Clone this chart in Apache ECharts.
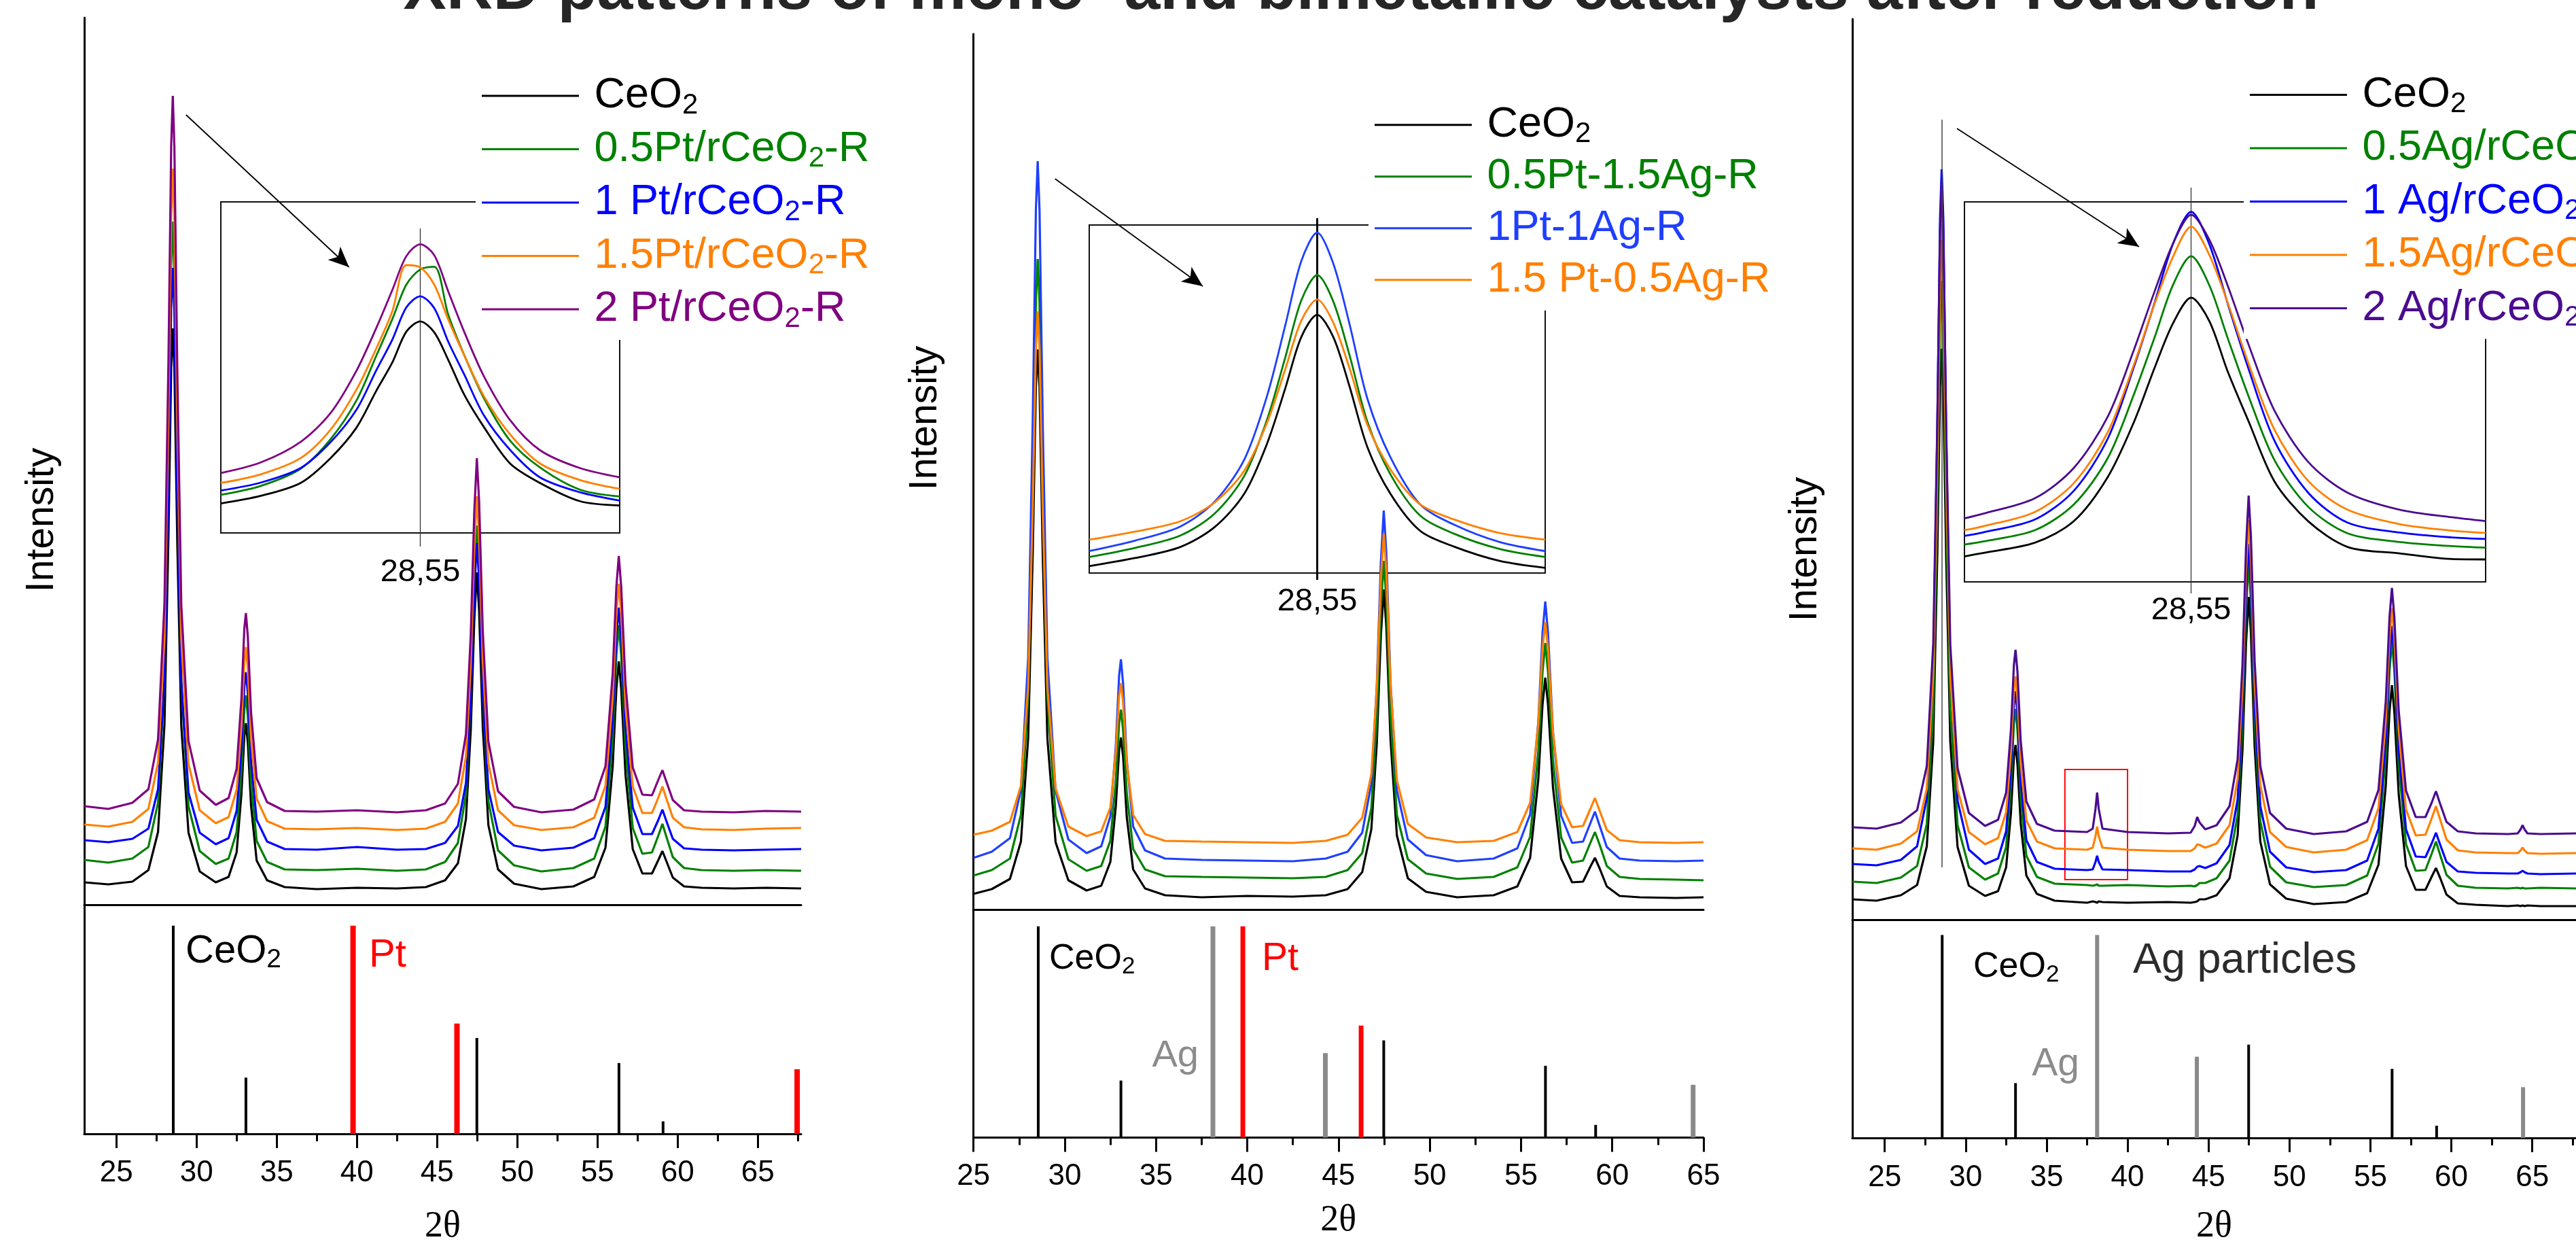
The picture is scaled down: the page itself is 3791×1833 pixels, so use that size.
<!DOCTYPE html>
<html>
<head>
<meta charset="utf-8">
<title>XRD patterns</title>
<script src="https://cdn.jsdelivr.net/npm/echarts@6.0.0/dist/echarts.min.js"></script>
<style>
html,body{margin:0;padding:0;background:#ffffff;overflow:hidden;}
#chart{width:3791px;height:1833px;}
</style>
</head>
<body>
<div id="chart"></div>
<script>
// ---------------- texts ----------------
const TITLE = 'XRD patterns of mono- and bimetallic catalysts after reduction';
const X_NAME = '2θ';
const Y_NAME = 'Intensity';
const INSET_TICK = 28.55;

// ---------------- panel 1 : Pt/rCeO2 ----------------
const P1_NAMES = ['CeO2', '0.5Pt/rCeO2-R', '1 Pt/rCeO2-R', '1.5Pt/rCeO2-R', '2 Pt/rCeO2-R'];
const P1_X = [23,24.5,26,27,27.6,28.0,28.25,28.42,28.52,28.62,28.8,29.05,29.5,30.2,31.2,32.0,32.5,32.8,32.98,33.08,33.2,33.4,33.75,34.4,35.5,37.5,40,42.5,44.3,45.5,46.3,46.8,47.1,47.32,47.48,47.62,47.85,48.2,48.8,49.8,51.5,53.5,54.8,55.5,55.95,56.18,56.33,56.48,56.75,57.2,57.8,58.4,58.8,59.05,59.3,59.7,60.4,61.5,63.5,65.5,67.7];
const P1_CEO2 = [33,30,34,51,107,264,543,790,848,790,534,263,106,49,33,41,77,163,248,267,238,146,65,36,26,23,25,24,26,36,61,126,257,419,489,433,261,117,52,31,23,27,41,84,204,318,358,318,191,82,46,46,66,79,64,40,27,25,24,25,24];
const P1_PT05 = [66,62,68,85,150,331,654,939,1005,936,641,327,145,79,60,68,107,197,287,308,277,179,94,63,52,51,53,50,52,63,91,162,304,482,558,497,309,152,80,58,49,54,68,115,245,368,411,368,231,113,75,77,102,119,100,70,54,51,50,51,50];
const P1_PT1 = [95,92,97,112,170,332,622,877,937,875,610,328,165,106,89,98,138,229,321,342,311,211,125,93,82,81,85,81,82,91,116,179,306,464,532,478,311,170,107,87,80,84,98,144,273,394,437,394,259,143,104,104,125,140,123,97,83,81,80,81,82];
const P1_PT15 = [118,115,122,141,209,394,724,1015,1083,1014,713,392,207,139,120,129,169,263,357,379,347,245,156,123,112,111,113,110,112,122,149,218,356,527,601,542,360,208,139,117,110,114,128,175,305,429,472,429,291,174,135,135,158,174,156,128,114,111,110,112,113];
const P1_PT2 = [145,141,150,170,243,443,801,1116,1190,1115,789,441,241,168,147,157,200,303,406,429,394,283,186,151,138,137,139,136,139,149,178,251,397,579,657,594,402,240,167,144,136,140,155,204,340,468,513,468,325,202,162,161,184,198,181,154,139,137,136,138,137];
const P1_INSET_X = [27.55,27.75,27.95,28.10,28.23,28.33,28.41,28.48,28.55,28.62,28.69,28.77,28.87,29.00,29.15,29.35,29.55];
const P1_INSET_CEO2 = [8.9,11.2,15.1,22.6,31.8,43.0,51.5,60.8,63.9,60.6,52.3,41.8,31.9,21.0,15.1,9.6,8.3];
const P1_INSET_PT05 = [11.5,14.2,19.4,28.3,40.0,53.6,64.6,75.0,79.6,80.4,66.0,53.8,40.6,27.9,19.8,13.1,11.0];
const P1_INSET_PT1 = [12.8,15.2,19.6,27.4,37.2,49.2,58.4,68.1,71.5,67.9,57.8,47.9,35.4,25.1,16.8,12.3,9.8];
const P1_INSET_PT15 = [15.1,17.7,22.6,31.2,43.3,55.8,67.0,80.9,80.2,75.0,64.5,53.7,41.2,29.8,21.0,16.0,13.3];
const P1_INSET_PT2 = [18.1,21.3,27.5,36.2,49.0,62.0,73.4,83.6,87.2,83.9,73.0,60.8,47.2,34.1,25.0,19.6,16.8];

// ---------------- panel 2 : Pt-Ag ----------------
const P2_NAMES = ['CeO2', '0.5Pt-1.5Ag-R', '1Pt-1Ag-R', '1.5 Pt-0.5Ag-R'];
const P2_X = [25,26,27,27.6,28.0,28.25,28.42,28.52,28.62,28.8,29.05,29.5,30.2,31.2,32.0,32.5,32.8,32.98,33.08,33.2,33.4,33.75,34.4,35.5,37.5,40,42.5,44.3,45.5,46.3,46.8,47.1,47.32,47.48,47.62,47.85,48.2,48.8,49.8,51.5,53.5,54.8,55.5,55.95,56.18,56.33,56.48,56.75,57.2,57.8,58.4,58.8,59.05,59.3,59.7,60.4,61.5,63.5,65];
const P2_CEO2 = [23,30,45,100,253,527,768,824,768,517,252,99,43,28,35,70,152,234,253,225,136,59,31,21,18,20,19,21,30,55,118,245,403,471,417,250,109,46,26,18,21,34,76,192,302,341,302,180,75,40,41,63,76,61,34,20,18,17,18];
const P2_PT05AG15 = [50,58,75,139,312,621,893,957,893,611,311,138,74,57,64,101,188,274,294,264,171,89,59,49,48,47,46,48,58,83,149,280,443,513,457,284,139,74,53,45,48,62,107,232,350,392,350,219,106,69,72,98,114,96,64,48,45,44,43];
const P2_PT1AG1 = [76,85,105,176,371,721,1029,1101,1029,709,370,175,103,83,93,137,241,344,368,332,220,122,87,75,73,72,71,75,85,113,185,330,510,587,525,335,175,103,80,71,75,90,140,277,407,453,407,262,138,98,100,127,144,124,92,75,72,71,72];
const P2_PT15AG05 = [110,116,129,182,329,593,826,880,825,583,326,178,122,108,115,150,232,314,333,305,216,139,111,101,100,99,98,101,110,135,199,326,485,553,499,331,190,126,106,99,101,114,157,274,384,423,384,261,155,121,123,148,164,146,117,102,99,98,99];
const P2_INSET_X = [27.55,27.75,27.95,28.10,28.23,28.33,28.41,28.48,28.55,28.62,28.69,28.77,28.87,29.00,29.15,29.35,29.55];
const P2_INSET_CEO2 = [2.0,4.3,7.5,13.2,22.8,37.2,53.1,67.8,74.2,67.9,54.0,36.2,22.9,12.2,7.6,3.5,1.5];
const P2_INSET_PT05AG15 = [4.6,7.2,10.8,17.1,27.9,44.1,62.0,78.3,85.6,78.1,63.0,43.5,28.5,16.6,11.3,6.9,4.6];
const P2_INSET_PT1AG1 = [6.3,9.3,13.4,20.5,32.6,50.9,71.2,89.6,97.8,89.0,72.0,50.1,33.4,19.8,13.9,8.9,6.3];
const P2_INSET_PT15AG05 = [9.6,11.9,14.9,20.3,29.4,43.2,58.6,72.5,78.6,72.0,59.2,42.6,29.9,19.8,15.4,11.5,9.6];

// ---------------- panel 3 : Ag/rCeO2 ----------------
const P3_NAMES = ['CeO2', '0.5Ag/rCeO2-R', '1 Ag/rCeO2-R', '1.5Ag/rCeO2-R', '2 Ag/rCeO2-R'];
const P3_X = [23,24.5,26,27,27.6,28.0,28.25,28.42,28.52,28.62,28.8,29.05,29.5,30.2,31.2,32.0,32.5,32.8,32.98,33.08,33.2,33.4,33.75,34.4,35.5,37.5,37.85,38.02,38.12,38.22,38.45,40,42.5,43.9,44.15,44.3,44.45,44.8,45.5,46.3,46.8,47.1,47.32,47.48,47.62,47.85,48.2,48.8,49.8,51.5,53.5,54.8,55.5,55.95,56.18,56.33,56.48,56.75,57.2,57.8,58.4,58.8,59.05,59.3,59.7,60.4,61.5,63.5,64.1,64.28,64.4,64.52,64.7,65.5,67.7];
const P3_CEO2 = [30,28,36,51,108,263,539,783,840,783,530,262,107,50,35,42,77,158,239,257,229,142,65,38,28,25,27,26,25,27,26,25,26,25,26,27,30,30,36,61,124,250,408,475,421,255,115,52,31,23,26,39,81,197,306,345,306,184,79,44,44,64,76,62,37,24,22,20,21,20,21,20,21,20,20];
const P3_AG05 = [56,54,62,79,141,310,611,878,940,878,602,309,139,77,59,68,107,198,289,310,279,180,94,63,53,51,50,51,52,50,50,51,49,50,49,51,54,54,61,87,154,288,455,527,470,293,145,78,55,48,51,65,112,243,366,410,366,229,111,72,73,98,115,96,66,50,47,46,47,46,47,46,46,47,46];
const P3_AG1 = [82,80,88,108,179,374,724,1032,1104,1031,711,371,175,103,82,90,130,222,315,336,304,204,117,85,75,73,74,85,94,85,74,73,71,71,74,78,79,76,83,110,177,312,481,553,495,317,167,100,77,70,73,87,134,265,388,432,388,251,133,93,92,113,128,111,85,71,69,68,68,70,72,70,68,67,68];
const P3_AG15 = [105,103,112,130,193,363,668,937,1000,937,658,362,192,129,111,120,158,248,338,358,327,230,146,115,105,103,106,123,137,123,106,103,101,101,105,111,110,106,112,139,207,344,515,588,529,349,198,129,107,99,103,117,164,293,415,458,415,279,162,124,125,150,167,148,118,102,99,98,98,102,106,102,98,97,98];
const P3_AG2 = [136,134,143,161,226,407,730,1015,1082,1014,719,405,223,157,138,147,187,281,375,397,365,263,174,141,131,129,134,163,187,163,134,129,127,128,138,151,143,133,139,167,236,376,549,624,564,380,226,157,134,126,130,144,191,321,445,488,445,307,190,151,151,173,189,171,144,130,127,126,127,133,139,133,127,126,127];
const P3_INSET_X = [27.68,27.75,27.95,28.10,28.23,28.33,28.41,28.48,28.55,28.62,28.69,28.77,28.87,29.00,29.15,29.35,29.55,29.68];
const P3_INSET_CEO2 = [6.7,7.6,10.3,16.0,27.6,42.0,56.4,68.0,74.8,68.6,55.4,42.3,26.4,15.9,9.2,7.5,6.0,5.9];
const P3_INSET_AG05 = [9.8,10.6,13.6,20.4,32.6,49.3,64.4,78.1,85.7,78.0,64.2,48.9,32.0,19.7,12.8,10.5,9.4,9.0];
const P3_INSET_AG1 = [12.1,13.0,16.4,24.0,37.7,56.5,73.5,88.9,97.4,88.8,73.3,56.1,37.1,23.4,15.6,13.0,11.7,11.3];
const P3_INSET_AG15 = [13.6,14.6,18.4,26.0,39.4,57.1,73.2,85.5,93.5,86.0,73.5,57.5,40.0,26.5,19.0,15.2,13.5,12.9];
const P3_INSET_AG2 = [16.7,17.9,22.0,30.0,43.5,61.0,76.5,89.0,96.6,90.0,78.0,62.5,45.0,31.5,23.5,19.0,17.0,16.0];

// ---------------- reference stick patterns ----------------
const REF_CEO2_X = [28.55, 33.08, 47.48, 56.34, 59.09];
const REF_CEO2_I = [100, 27, 46, 34, 6];
const REF_PT_X = [39.76, 46.24, 67.45];
const REF_PT_I = [100, 53, 31];
const REF_AG_X = [38.12, 44.28, 64.43];
const REF_AG_I = [100, 40, 25];

// ---------------- tick labels ----------------
const TICKS_MAJOR = [25, 30, 35, 40, 45, 50, 55, 60, 65];
const TICKS_MINOR_WIDE = [27.5, 32.5, 37.5, 42.5, 47.5, 52.5, 57.5, 62.5, 67.5];
const TICKS_MINOR_NARROW = [27.5, 32.5, 37.5, 42.5, 47.5, 52.5, 57.5, 62.5];

// ---------------- annotations (data coordinates) ----------------
const P1_ARROW = [[29.35, 1162], [39.51, 938]];
const P2_ARROW = [[29.47, 1075], [37.56, 917]];
const P3_ARROW = [[29.46, 1164], [40.71, 990]];
const P3_GUIDE = [[28.55, 1177], [28.55, 77]];
const P3_BOX = [[36.13, 221], [40.0, 59]];

// ---------------- style ----------------
const FONT = '"Liberation Sans", Arial, Helvetica, sans-serif';
const SERIF = '"Liberation Serif", "Times New Roman", serif';
const COL = {
  black: '#000000', green: '#008000', blue: '#0000ff', blue2: '#1f3fff',
  orange: '#ff8000', purple: '#800080', indigo: '#4b0c8f',
  red: '#ff0000', gray: '#8a8a8a', grayText: '#8c8c8c', dark: '#262626'
};
const P1_COLORS = [COL.black, COL.green, COL.blue, COL.orange, COL.purple];
const P2_COLORS = [COL.black, COL.green, COL.blue2, COL.orange];
const P3_COLORS = [COL.black, COL.green, COL.blue, COL.orange, COL.indigo];

// layout of each panel (pixels)
const LAYOUT = [
  { left: 124, width: 1055, top: 26, divider: 1331, bottom: 1672, xmin: 23, xmax: 67.7, ymax: 1305, refMax: 110,
    inset: { left: 325, top: 297, width: 587, height: 487, min: 27.55, max: 29.55, labelMargin: 35, tickW: 1.3, tickC: '#333', up: 448, down: 20 },
    labelMargin: 36, nameGap: 110, legend: { left: 700, top: 96, gap: 8.5 } },
  { left: 1432.6, width: 1074.4, top: 50, divider: 1338, bottom: 1673.5, xmin: 25, xmax: 65, ymax: 1288, refMax: 108,
    inset: { left: 1603, top: 331, width: 671, height: 512, min: 27.55, max: 29.55, labelMargin: 19, tickW: 3, tickC: '#000', up: 522, down: 10 },
    labelMargin: 35, nameGap: 95, legend: { left: 2014, top: 138.7, gap: 6 } },
  { left: 2726, width: 1072.8, top: 28, divider: 1353, bottom: 1680.6, xmin: 23, xmax: 67.7, ymax: 1325, refMax: 107.5,
    inset: { left: 2891, top: 297, width: 767, height: 559, min: 27.68, max: 29.68, labelMargin: 19, tickW: 1.3, tickC: '#333', up: 580, down: 17 },
    labelMargin: 37, nameGap: 104, legend: { left: 3302, top: 94.5, gap: 8.5 } }
];

function pairs(xs, ys) { return xs.map((x, i) => [x, ys[i]]); }
function richName(s) { return '{n| ' + s.split('O2').join('O}{s|2}{n|') + '}'; }

const grids = [], xAxes = [], yAxes = [], series = [], legends = [];
const noTicks = { axisTick: { show: false }, axisLabel: { show: false }, splitLine: { show: false } };

LAYOUT.forEach((L) => {
  const gMain = grids.length;
  grids.push({ left: L.left, top: L.top, width: L.width, height: L.divider - L.top, containLabel: false });
  const gRef = grids.length;
  grids.push({ left: L.left, top: L.divider, width: L.width, height: L.bottom - L.divider, containLabel: false });
  const gIn = grids.length;
  grids.push({ left: L.inset.left, top: L.inset.top, width: L.inset.width, height: L.inset.height, show: true,
    borderColor: '#111', borderWidth: 2, backgroundColor: 'transparent', containLabel: false });

  const ix = {};
  ix.xMain = xAxes.length;
  xAxes.push(Object.assign({ gridIndex: gMain, type: 'value', min: L.xmin, max: L.xmax, position: 'bottom',
    axisLine: { show: true, onZero: false, lineStyle: { color: '#000', width: 3 } } }, noTicks));
  ix.xRef = xAxes.length;
  xAxes.push({ gridIndex: gRef, type: 'value', min: L.xmin, max: L.xmax, position: 'bottom',
    axisLine: { show: true, onZero: false, lineStyle: { color: '#000', width: 3 } },
    axisTick: { show: true, customValues: TICKS_MAJOR, length: 21, lineStyle: { color: '#000', width: 3 } },
    axisLabel: { show: true, customValues: TICKS_MAJOR, margin: L.labelMargin, fontSize: 44, fontFamily: FONT, color: '#000' },
    splitLine: { show: false },
    name: X_NAME, nameLocation: 'middle', nameGap: L.nameGap,
    nameTextStyle: { fontSize: 54, fontFamily: SERIF, color: '#000' } });
  xAxes.push({ gridIndex: gRef, type: 'value', min: L.xmin, max: L.xmax, position: 'bottom',
    axisLine: { show: false },
    axisTick: { show: true, customValues: (L.xmax > 67 ? TICKS_MINOR_WIDE : TICKS_MINOR_NARROW), length: 11, lineStyle: { color: '#000', width: 3 } },
    axisLabel: { show: false }, splitLine: { show: false } });
  // inset axis: label + upward tick at 28.55
  ix.xIn = xAxes.length;
  xAxes.push({ gridIndex: gIn, type: 'value', min: L.inset.min, max: L.inset.max, position: 'bottom',
    axisLine: { show: false },
    axisTick: { show: true, inside: true, customValues: [INSET_TICK], length: L.inset.up, lineStyle: { color: L.inset.tickC, width: L.inset.tickW } },
    axisLabel: { show: true, customValues: [INSET_TICK], margin: L.inset.labelMargin, fontSize: 47, fontFamily: FONT, color: '#000',
      formatter: v => String(v).replace('.', ',') },
    splitLine: { show: false } });
  // inset axis: short downward part of the same tick
  xAxes.push({ gridIndex: gIn, type: 'value', min: L.inset.min, max: L.inset.max, position: 'bottom',
    axisLine: { show: false },
    axisTick: { show: true, inside: false, customValues: [INSET_TICK], length: L.inset.down, lineStyle: { color: L.inset.tickC, width: L.inset.tickW } },
    axisLabel: { show: false }, splitLine: { show: false } });

  ix.yMain = yAxes.length;
  yAxes.push(Object.assign({ gridIndex: gMain, type: 'value', min: 0, max: L.ymax,
    axisLine: { show: true, onZero: false, lineStyle: { color: '#000', width: 3 } } }, noTicks));
  ix.yRef = yAxes.length;
  yAxes.push(Object.assign({ gridIndex: gRef, type: 'value', min: 0, max: L.refMax,
    axisLine: { show: true, onZero: false, lineStyle: { color: '#000', width: 3 } } }, noTicks));
  ix.yIn = yAxes.length;
  yAxes.push(Object.assign({ gridIndex: gIn, type: 'value', min: 0, max: 100, axisLine: { show: false } }, noTicks));
  L.ix = ix;
});

function lineSeries(name, data, color, xi, yi, width, extra) {
  return Object.assign({
    type: 'line', name, data, xAxisIndex: xi, yAxisIndex: yi, showSymbol: false, symbol: 'none',
    lineStyle: { color, width }, itemStyle: { color }, silent: true, animation: false,
    emphasis: { disabled: true }, clip: true
  }, extra || {});
}
function stickSeries(xs, hs, color, width, xi, yi, xmax) {
  const data = [];
  xs.forEach((x, i) => { if (x <= xmax) data.push([x, hs[i]]); });
  return {
    type: 'custom', xAxisIndex: xi, yAxisIndex: yi, data, silent: true, animation: false,
    renderItem(params, api) {
      const a = api.coord([api.value(0), 0]);
      const b = api.coord([api.value(0), api.value(1)]);
      return { type: 'line', shape: { x1: a[0], y1: a[1], x2: b[0], y2: b[1] }, style: { stroke: color, lineWidth: width } };
    }
  };
}
function arrowMark(seg) {
  return { silent: true, animation: false, symbol: ['none', 'arrow'], symbolSize: [20, 30],
    lineStyle: { color: '#000', width: 1.8, type: 'solid' }, label: { show: false }, emphasis: { disabled: true },
    data: [[{ coord: seg[0] }, { coord: seg[1] }]] };
}

const MAIN_W = 3.2, INSET_W = 2.8;

// ---- panel 1 series ----
(function () {
  const I = LAYOUT[0].ix;
  const main = [P1_CEO2, P1_PT05, P1_PT1, P1_PT15, P1_PT2];
  const ins = [P1_INSET_CEO2, P1_INSET_PT05, P1_INSET_PT1, P1_INSET_PT15, P1_INSET_PT2];
  main.forEach((ys, k) => series.push(lineSeries(P1_NAMES[k], pairs(P1_X, ys), P1_COLORS[k], I.xMain, I.yMain, MAIN_W,
    k === 0 ? { markLine: arrowMark(P1_ARROW) } : null)));
  ins.forEach((ys, k) => series.push(lineSeries(P1_NAMES[k], pairs(P1_INSET_X, ys), P1_COLORS[k], I.xIn, I.yIn, INSET_W, { smooth: 0.3 })));
  series.push(stickSeries(REF_CEO2_X, REF_CEO2_I, COL.black, 4, I.xRef, I.yRef, LAYOUT[0].xmax));
  series.push(stickSeries(REF_PT_X, REF_PT_I, COL.red, 8, I.xRef, I.yRef, LAYOUT[0].xmax));
})();
// ---- panel 2 series ----
(function () {
  const I = LAYOUT[1].ix;
  const main = [P2_CEO2, P2_PT05AG15, P2_PT1AG1, P2_PT15AG05];
  const ins = [P2_INSET_CEO2, P2_INSET_PT05AG15, P2_INSET_PT1AG1, P2_INSET_PT15AG05];
  main.forEach((ys, k) => series.push(lineSeries(P2_NAMES[k], pairs(P2_X, ys), P2_COLORS[k], I.xMain, I.yMain, MAIN_W,
    k === 0 ? { markLine: arrowMark(P2_ARROW) } : null)));
  ins.forEach((ys, k) => series.push(lineSeries(P2_NAMES[k], pairs(P2_INSET_X, ys), P2_COLORS[k], I.xIn, I.yIn, INSET_W, { smooth: 0.3 })));
  series.push(stickSeries(REF_CEO2_X, REF_CEO2_I, COL.black, 4, I.xRef, I.yRef, LAYOUT[1].xmax));
  series.push(stickSeries(REF_AG_X, REF_AG_I, COL.gray, 7, I.xRef, I.yRef, LAYOUT[1].xmax));
  series.push(stickSeries(REF_PT_X, REF_PT_I, COL.red, 7, I.xRef, I.yRef, LAYOUT[1].xmax));
})();
// ---- panel 3 series ----
(function () {
  const I = LAYOUT[2].ix;
  const main = [P3_CEO2, P3_AG05, P3_AG1, P3_AG15, P3_AG2];
  const ins = [P3_INSET_CEO2, P3_INSET_AG05, P3_INSET_AG1, P3_INSET_AG15, P3_INSET_AG2];
  main.forEach((ys, k) => {
    let extra = null;
    if (k === 0) {
      extra = {
        markLine: { silent: true, animation: false, symbol: ['none', 'arrow'], symbolSize: [20, 30], label: { show: false },
          emphasis: { disabled: true }, lineStyle: { color: '#000', width: 1.8, type: 'solid' },
          data: [
            [{ coord: P3_ARROW[0] }, { coord: P3_ARROW[1] }],
            [{ coord: P3_GUIDE[0], symbol: 'none' }, { coord: P3_GUIDE[1], symbol: 'none', lineStyle: { color: '#444', width: 1.5 } }]
          ] },
        markArea: { silent: true, animation: false, itemStyle: { color: 'rgba(0,0,0,0)', borderColor: COL.red, borderWidth: 2 },
          label: { show: false }, emphasis: { disabled: true },
          data: [[{ coord: P3_BOX[0] }, { coord: P3_BOX[1] }]] }
      };
    }
    series.push(lineSeries(P3_NAMES[k], pairs(P3_X, ys), P3_COLORS[k], I.xMain, I.yMain, MAIN_W, extra));
  });
  ins.forEach((ys, k) => series.push(lineSeries(P3_NAMES[k], pairs(P3_INSET_X, ys), P3_COLORS[k], I.xIn, I.yIn, INSET_W, { smooth: 0.3 })));
  series.push(stickSeries(REF_CEO2_X, REF_CEO2_I, COL.black, 4, I.xRef, I.yRef, LAYOUT[2].xmax));
  series.push(stickSeries(REF_AG_X, REF_AG_I, COL.gray, 6, I.xRef, I.yRef, LAYOUT[2].xmax));
})();

// ---- legends ----
[[P1_NAMES, P1_COLORS], [P2_NAMES, P2_COLORS], [P3_NAMES, P3_COLORS]].forEach(([names, colors], p) => {
  const lg = LAYOUT[p].legend;
  legends.push({
    show: true, orient: 'vertical', left: lg.left, top: lg.top, padding: [10, 30, 10, 9],
    itemWidth: 143, itemHeight: 3, itemGap: lg.gap, icon: 'rect', backgroundColor: '#ffffff',
    selectedMode: false, z: 10,
    data: names.map((n, i) => ({ name: n, textStyle: { color: colors[i] } })),
    formatter: richName,
    textStyle: { fontFamily: FONT, fontSize: 63, lineHeight: 70,
      rich: { n: { fontFamily: FONT, fontSize: 63, lineHeight: 70 },
              s: { fontFamily: FONT, fontSize: 42, lineHeight: 48, verticalAlign: 'bottom' } } }
  });
});

// ---- free texts ----
function txt(x, y, text, size, color, opts) {
  opts = opts || {};
  return { type: 'text', x, y, rotation: opts.rotation || 0, z: 100, silent: true,
    style: { text, font: (opts.bold ? 'bold ' : '') + size + 'px ' + (opts.family || FONT), fill: color,
      textAlign: opts.align || 'left', align: opts.align || 'left',
      textVerticalAlign: 'middle', verticalAlign: 'middle' } };
}
function ceo2Label(x, y, size) {
  return { type: 'text', x, y, z: 100, silent: true,
    style: { text: '{n|CeO}{s|2}', fill: '#000', textAlign: 'left', align: 'left', textVerticalAlign: 'middle', verticalAlign: 'middle',
      rich: { n: { fontFamily: FONT, fontSize: size, lineHeight: size + 6, fill: '#000' },
              s: { fontFamily: FONT, fontSize: Math.round(size * 0.67), lineHeight: Math.round(size * 0.74), fill: '#000', verticalAlign: 'bottom' } } } };
}
const graphics = [
  txt(2003, -13, TITLE, 95, COL.dark, { align: 'center', bold: true }),
  txt(62, 765, Y_NAME, 57, '#000', { align: 'center', rotation: Math.PI / 2 }),
  txt(1362, 615, Y_NAME, 57, '#000', { align: 'center', rotation: Math.PI / 2 }),
  txt(2657, 808, Y_NAME, 57, '#000', { align: 'center', rotation: Math.PI / 2 }),
  ceo2Label(273, 1400, 58),
  txt(543, 1406, 'Pt', 58, COL.red),
  ceo2Label(1544, 1411, 52),
  txt(1764, 1554, 'Ag', 56, COL.grayText, { align: 'right' }),
  txt(1857, 1411, 'Pt', 57, COL.red),
  ceo2Label(2904, 1423, 52),
  txt(3060, 1566, 'Ag', 57, COL.grayText, { align: 'right' }),
  txt(3139, 1414, 'Ag particles', 63, '#2b2b2b')
];

const option = {
  animation: false,
  backgroundColor: '#ffffff',
  textStyle: { fontFamily: FONT },
  grid: grids,
  xAxis: xAxes,
  yAxis: yAxes,
  legend: legends,
  series: series,
  graphic: graphics
};

const chart = echarts.init(document.getElementById('chart'), null, { renderer: 'canvas', width: 3791, height: 1833 });
chart.setOption(option);
</script>
</body>
</html>
